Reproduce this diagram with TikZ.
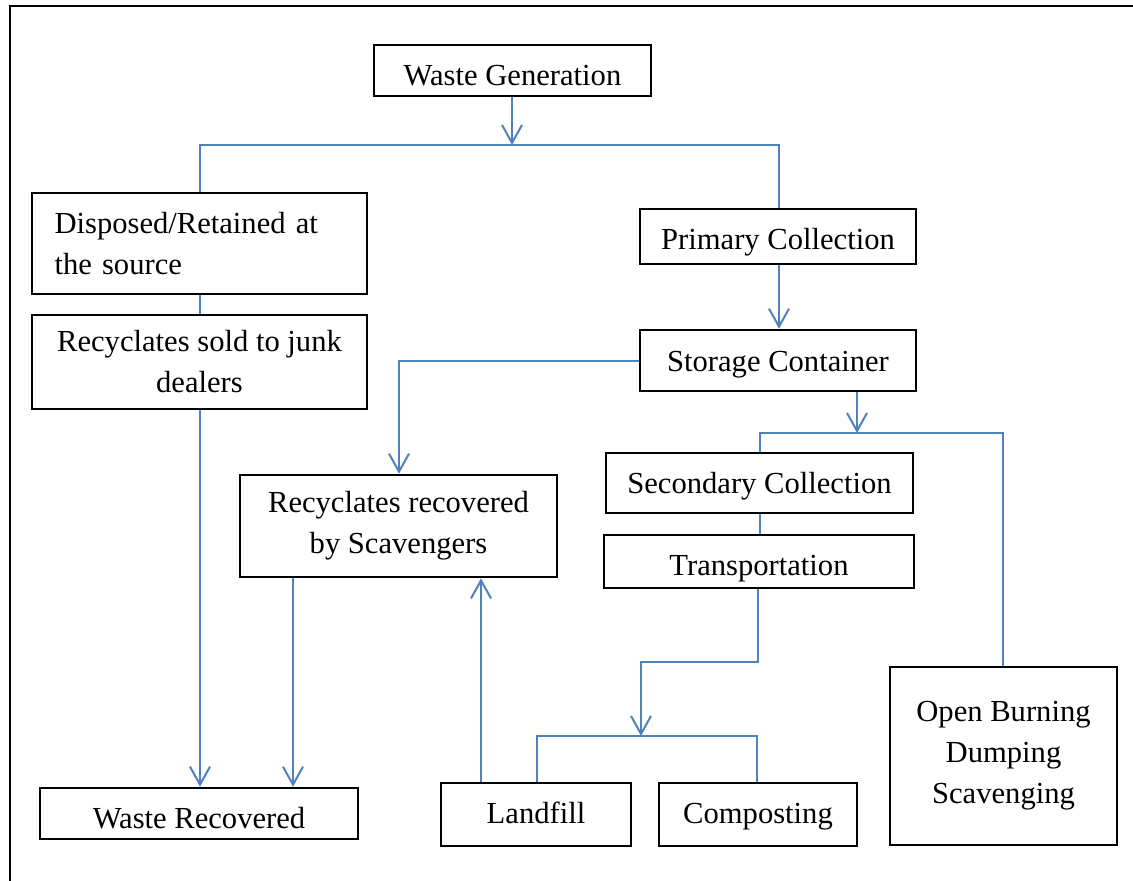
\documentclass[tikz,border=0pt]{standalone}
\usepackage{fontspec}
\setmainfont{Liberation Serif}
\usetikzlibrary{arrows.meta}
\definecolor{flowblue}{HTML}{4F81BD}
\begin{document}
\begin{tikzpicture}[x=0.5pt,y=-0.5pt,
  box/.style={draw=black, line width=1.3pt, inner sep=0pt, align=center,
    font=\fontsize{15.3}{20.5}\selectfont},
  % single-line boxes: baseline placed #1 below the box centre
  one/.style={text height=#1, text depth=0pt},
  link/.style={draw=flowblue, line width=1pt},
  arr/.style={link, -{Straight Barb[length=9pt,width=10pt,line width=1pt]}}]
\useasboundingbox (0,0) rectangle (1133,880);
% outer frame (only left and top edges fall inside the page)
\draw[line width=1.3pt] (10,1000) -- (10,6) -- (1200,6);

% boxes
\node[box, one=14.5pt, minimum width=138.5pt, minimum height=25.5pt] (gen) at (512.5,70.5) {Waste Generation};
\node[box, minimum width=167.5pt, minimum height=50.5pt, align=left, text width=145pt] (disp) at (199.5,243.5)
  {Disposed/Retained at\\the source};
\node[box, one=12.5pt, minimum width=138pt, minimum height=27.5pt] (prim) at (778,236.5) {Primary Collection};
\node[box, one=10.5pt, minimum width=138pt, minimum height=30.5pt] (stor) at (778,360.5) {Storage Container};
\node[box, minimum width=167.5pt, minimum height=47pt] (junk) at (199.5,362) {Recyclates sold to junk\\dealers};
\node[box, minimum width=158.5pt, minimum height=51pt] (scav) at (398.5,526) {Recyclates recovered\\by Scavengers};
\node[box, one=10.5pt, minimum width=153.5pt, minimum height=30pt] (sec) at (759.5,483) {Secondary Collection};
\node[box, one=13.5pt, minimum width=155pt, minimum height=26.5pt] (trans) at (759,561.5) {Transportation};
\node[box, minimum width=113.5pt, minimum height=89pt] (open) at (1003.5,756) {Open Burning\\Dumping\\Scavenging};
\node[box, one=14.5pt, minimum width=159pt, minimum height=25.5pt] (recov) at (199,813.5) {Waste Recovered};
\node[box, one=9pt, minimum width=95pt, minimum height=31.5pt] (land) at (536,814.5) {Landfill};
\node[box, one=9pt, minimum width=99pt, minimum height=31.5pt] (comp) at (758,814.5) {Composting};

% junction points
\coordinate (j1) at (512,145);
\coordinate (j2) at (857,433);
\coordinate (j3) at (641,736);

% connectors
\draw[arr] (gen.south -| j1) -- (j1);
\draw[link] (disp.north -| 200,0) |- (j1) -| (prim.north -| 779,0);
\draw[arr] (prim.south -| 779,0) -- (stor.north -| 779,0);
\draw[link] (disp.south -| 200,0) -- (junk.north -| 200,0);
\draw[arr] (junk.south -| 200,0) -- (recov.north -| 200,0);
\draw[arr] (stor.west) -| (scav.north -| 399,0);
\draw[arr] (scav.south -| 293,0) -- (recov.north -| 293,0);
\draw[arr] (land.north -| 481,0) -- (scav.south -| 481,0);
\draw[arr] (stor.south -| j2) -- (j2);
\draw[link] (sec.north -| 760,0) |- (j2) -| (open.north -| 1003,0);
\draw[link] (sec.south -| 760,0) -- (trans.north -| 760,0);
\draw[arr] (trans.south -| 758,0) -- (758,662) -| (j3);
\draw[link] (land.north -| 537,0) |- (j3) -| (comp.north -| 757,0);
\end{tikzpicture}
\end{document}
